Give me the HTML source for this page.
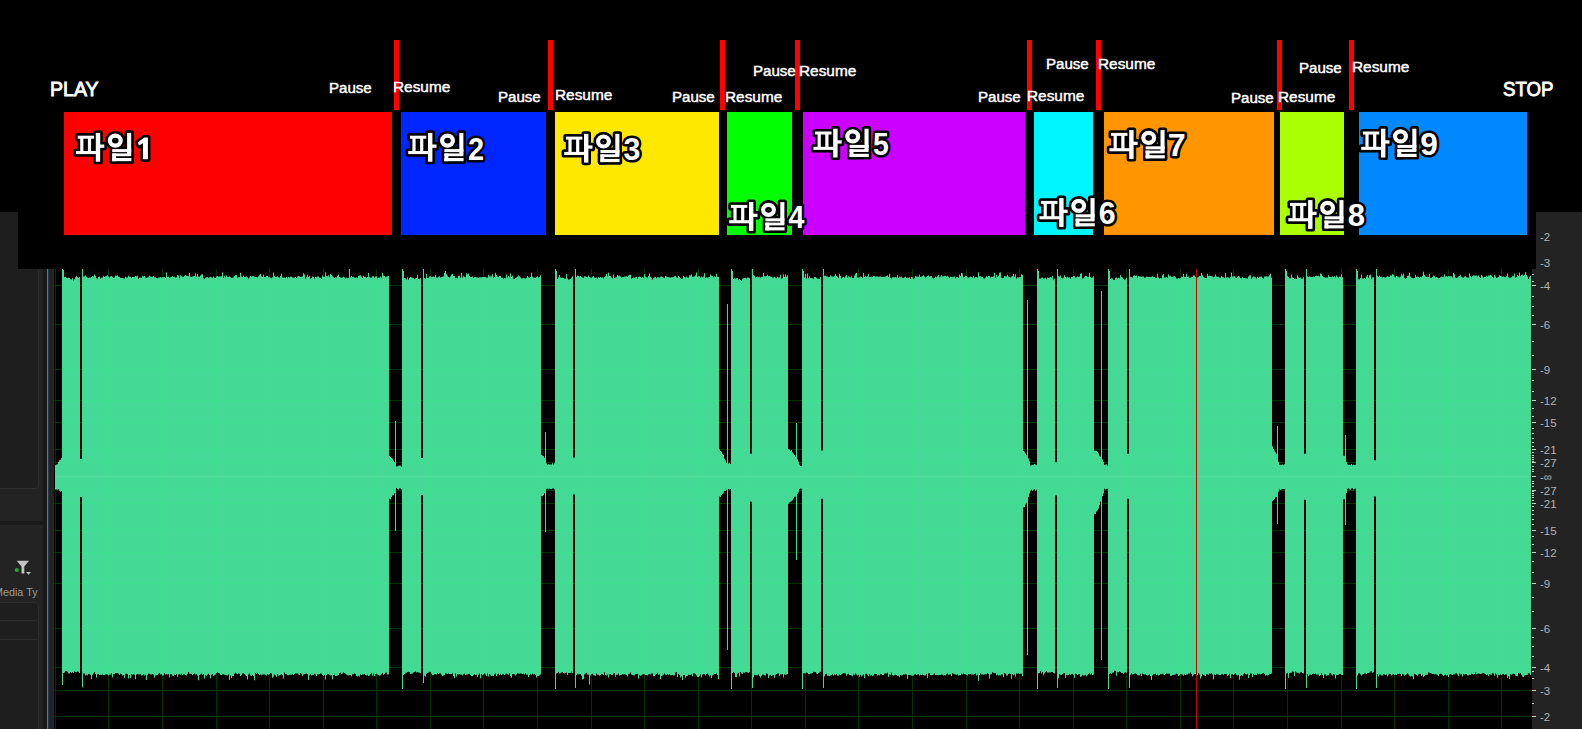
<!DOCTYPE html>
<html><head><meta charset="utf-8"><title>waveform</title>
<style>
html,body{margin:0;padding:0;background:#000;}
body{width:1582px;height:729px;position:relative;overflow:hidden;font-family:"Liberation Sans",sans-serif;}
.abs{position:absolute}
#lp{position:absolute;left:0;top:212px;width:54px;height:517px;background:#232323;overflow:hidden}
#lp .box1{position:absolute;left:-4px;top:-4px;width:41px;height:279px;background:#1e1e1e;border:1px solid #2e2e2e;border-radius:4px}
#lp .band{position:absolute;left:0;top:309px;width:43px;height:4px;background:#1a1a1a}
#lp .dk{position:absolute;left:43px;top:0;width:4px;height:517px;background:#1a1a1a}
#lp .bl{position:absolute;left:47px;top:0;width:1px;height:517px;background:#2e80e8;box-shadow:0.5px 0 0 rgba(46,128,232,.45)}
#lp .box2{position:absolute;left:-4px;top:390px;width:41px;height:140px;background:#1e1e1e;border:1px solid #2e2e2e;border-radius:4px}
#lp .row{position:absolute;left:0;width:37px;height:1px;background:#2c2c2c}
#lp .mt{position:absolute;left:-6px;top:373px;font-size:11.6px;line-height:14px;color:#9c9c9c;white-space:nowrap;transform:scaleX(0.93);transform-origin:0 0}
#rs{position:absolute;left:1532px;top:269px;width:50px;height:460px;background:#232323}
#rs0{position:absolute;left:1536px;top:212px;width:46px;height:57px;background:#232323}
.sl{position:absolute;left:1540px;font-size:11.5px;line-height:12px;color:#b4b4b4;white-space:nowrap}
#ov{position:absolute;left:18px;top:0;width:1518px;height:269px;background:#000}
#ov .b{position:absolute;top:112px;height:123px}
#ov .r{position:absolute;top:40px;width:5px;height:70px;background:#ff0000}
#ov .t{position:absolute;transform-origin:0 0;color:#fff;font-size:15.3px;line-height:15.3px;white-space:nowrap;-webkit-text-stroke:0.45px #fff}
#ov .T{position:absolute;color:#fff;font-size:21.0px;line-height:21.0px;white-space:nowrap;-webkit-text-stroke:0.9px #fff;transform-origin:0 0}
.dg{font-family:"Liberation Sans",sans-serif;font-weight:bold;font-size:31.7px;fill:#fff;stroke:#000;stroke-width:5.2px;stroke-linejoin:round;paint-order:stroke}
</style></head><body>
<svg class="abs" style="left:0;top:0" width="1582" height="729" viewBox="0 0 1582 729" shape-rendering="crispEdges">
<defs><clipPath id="wc"><path d="M55,465.2V465.2H56V464.5H57V464.3H58V462H59V460.2H60V459.7H61V457.8H62V268H63V270H64V277.1H65V276.8H66V277.8H67V277.9H68V277.7H69V278.1H70V279.1H71V279.5H72V278.2H73V280.5H74V279.3H75V277.2H76V275.8H77V277.1H78V278.1H79V276.9H80V459H81V459H82V268H83V276.6H84V276.3H85V275.5H86V276.7H87V277.6H88V277.9H89V277.6H90V277.6H91V277H92V275.9H93V276.6H94V274.6H95V275.7H96V278.2H97V278.4H98V277H99V276.6H100V278.6H101V277.7H102V277.5H103V275.8H104V276.9H105V276.2H106V275.8H107V275.3H108V276.7H109V277.5H110V276.5H111V276H112V276.8H113V277.9H114V277.4H115V275.6H116V275.7H117V275.2H118V276.7H119V276.7H120V277.7H121V278.1H122V277.9H123V278.2H124V278.6H125V276.7H126V277.5H127V277.5H128V275.8H129V276.8H130V276.8H131V278.1H132V277H133V277H134V277.1H135V276.1H136V276.3H137V275.7H138V278.8H139V277.8H140V277.4H141V277.8H142V275.8H143V276.4H144V275.9H145V277.6H146V278.1H147V277.4H148V276.7H149V275.7H150V276.5H151V276.7H152V276.7H153V276.1H154V277.2H155V277.2H156V277.9H157V278.2H158V277.5H159V277.4H160V277H161V277.5H162V277.6H163V277H164V276.9H165V277.9H166V272.5H167V276.9H168V276.8H169V278.1H170V277.3H171V277.1H172V275.8H173V276.9H174V276.7H175V277.5H176V277.2H177V275H178V275.6H179V278.2H180V275.2H181V276.3H182V276.8H183V276.7H184V275.8H185V275H186V275.7H187V276.1H188V276.2H189V272.9H190V276.4H191V277H192V276.4H193V276.2H194V275.9H195V273.2H196V276.6H197V273.9H198V276.6H199V276.7H200V275.5H201V274.6H202V274.3H203V278.2H204V278.7H205V277.7H206V277.3H207V277.1H208V277.8H209V277.3H210V276.8H211V277.3H212V277.8H213V276.5H214V277.5H215V278.1H216V276.8H217V276.1H218V276.7H219V276.6H220V276.3H221V276.2H222V272.2H223V278H224V275.8H225V277.2H226V275.4H227V276.8H228V276.9H229V276.2H230V277.2H231V277.8H232V277.7H233V277.3H234V276H235V275H236V275H237V277.8H238V277.2H239V277.1H240V272.7H241V276.4H242V277H243V275.6H244V277.1H245V276.7H246V276.3H247V277.2H248V278.5H249V277.5H250V276.1H251V276.8H252V276.2H253V276H254V276.8H255V276.9H256V277H257V277.5H258V276.3H259V274.8H260V274H261V276.2H262V277H263V274.8H264V277H265V277.1H266V275.8H267V275.9H268V277.2H269V277.2H270V277.8H271V278.2H272V277.2H273V272.4H274V275.9H275V276.9H276V276.8H277V276.2H278V277.3H279V277.6H280V276H281V273.8H282V277.6H283V278H284V277.2H285V278H286V277.1H287V278.2H288V276.9H289V277.4H290V276.8H291V276.7H292V277.5H293V277.4H294V277.5H295V277H296V277.9H297V276.6H298V276.1H299V276.5H300V277.1H301V276.8H302V276.6H303V273.3H304V274.6H305V278.4H306V277.2H307V274.8H308V277H309V275.8H310V278.7H311V278.1H312V276.6H313V277.1H314V278.5H315V277.1H316V277.2H317V276.5H318V276.5H319V277.5H320V277.7H321V278.9H322V275.6H323V276.9H324V276.8H325V272.4H326V275.9H327V276.2H328V275.3H329V277.3H330V273.9H331V275H332V276.2H333V276.7H334V277.9H335V277.2H336V277.4H337V275.7H338V274.8H339V277H340V277.4H341V277.8H342V277.5H343V276.7H344V277.2H345V278.4H346V277.6H347V278.3H348V278.1H349V267.3H350V277.2H351V275.9H352V276.9H353V276.8H354V277.5H355V277.8H356V277.2H357V277.7H358V275.8H359V275.4H360V275.2H361V276.4H362V278H363V275.7H364V276.9H365V276.7H366V277.8H367V277H368V272.9H369V277.3H370V277.5H371V277.4H372V276.2H373V276.3H374V277.6H375V276.4H376V276.5H377V278.2H378V277.7H379V277.4H380V276.6H381V277.8H382V272.8H383V275.6H384V275.9H385V277.2H386V276.6H387V276.2H388V275.9H389V455.9H390V457H391V458H392V458.6H393V460.5H394V462.2H395V421H396V466.5H397V466.3H398V465.8H399V465.4H400V465.7H401V466.8H402V268H403V271H404V278.1H405V278.2H406V279.5H407V277.4H408V279.4H409V278H410V277.1H411V277.3H412V277.7H413V278.3H414V279H415V278.2H416V277.9H417V274.8H418V279H419V278.7H420V278.1H421V458H422V458H423V268H424V277.9H425V278.7H426V274.1H427V278.1H428V277.7H429V276.5H430V276.5H431V277.3H432V276.7H433V276.6H434V276.9H435V275.2H436V277.4H437V277.4H438V276.7H439V276.2H440V277.5H441V277.1H442V276.7H443V276.2H444V272.8H445V271.1H446V274.2H447V275.6H448V277H449V277.6H450V276.6H451V274.4H452V273.7H453V275.9H454V276.1H455V278.2H456V277.7H457V278.3H458V276.1H459V275.7H460V277.7H461V272.9H462V277.4H463V275.7H464V276.7H465V277.2H466V273.3H467V274.3H468V273.4H469V276H470V276.9H471V277.1H472V276.5H473V278.1H474V277.2H475V276.9H476V277.2H477V277.4H478V277.8H479V277.2H480V277.2H481V277.2H482V277.1H483V277.2H484V277H485V277H486V277.4H487V277.6H488V274.7H489V276.4H490V276.6H491V276.3H492V274.2H493V278.1H494V277H495V272.7H496V275H497V276.5H498V276.9H499V276.1H500V275.9H501V277.8H502V277.7H503V278.7H504V278H505V278.2H506V274.4H507V277.6H508V276.1H509V277.3H510V273.6H511V277H512V275.5H513V278.7H514V278.9H515V277.9H516V277.5H517V276.5H518V275.5H519V276.3H520V277.3H521V278.4H522V278.2H523V277.7H524V278.3H525V278.5H526V277.7H527V275.9H528V277.2H529V277.9H530V277.1H531V272.8H532V276.6H533V277.7H534V277.5H535V278H536V277.1H537V276.6H538V277.5H539V277H540V275.3H541V454.9H542V455.5H543V456H544V457.7H545V432H546V463.3H547V464.7H548V464.2H549V464.4H550V464.6H551V464.5H552V463.3H553V464.4H554V463.2H555V268H556V271H557V279.1H558V277.6H559V274.9H560V277.5H561V277.9H562V277.7H563V277.9H564V278.4H565V278.5H566V274.1H567V278.2H568V279.5H569V279.4H570V278.8H571V277.8H572V276.4H573V457.6H574V457.6H575V268H576V276.7H577V275.6H578V276.1H579V276.4H580V276H581V277.1H582V277.4H583V277.8H584V276.3H585V276.5H586V277H587V277.3H588V275.5H589V277H590V277.5H591V278.3H592V276.7H593V276.1H594V277.4H595V277.8H596V277.6H597V278.5H598V277.2H599V278.1H600V277H601V277.8H602V277.2H603V278.4H604V276.9H605V276H606V274.1H607V276.3H608V272.8H609V276H610V276H611V277.6H612V278.3H613V274.4H614V277.9H615V277.6H616V277.2H617V275.1H618V275.8H619V275.6H620V276.6H621V277.4H622V277H623V277.1H624V276.6H625V276.6H626V276.3H627V276.9H628V275.5H629V274.7H630V274.7H631V278.5H632V278.1H633V277.2H634V277.8H635V277.2H636V276.7H637V278.7H638V276.9H639V276.6H640V276.8H641V278H642V277.2H643V278H644V274.3H645V276.6H646V277.3H647V277.6H648V276.1H649V273.4H650V276.8H651V278.1H652V279.6H653V278.2H654V277.3H655V277.1H656V278.2H657V277.3H658V277.3H659V277.6H660V276.7H661V276.4H662V277.1H663V277.6H664V278.1H665V276.1H666V276.5H667V276.9H668V277.3H669V277.3H670V277.4H671V277.2H672V277.3H673V276.9H674V276.2H675V275.8H676V277.3H677V277.8H678V276.1H679V277.1H680V278H681V279H682V278.5H683V275.9H684V277H685V277.5H686V276.6H687V277.8H688V277.5H689V275.2H690V275.4H691V274.6H692V276.7H693V276.7H694V276.2H695V275.3H696V272.6H697V277.1H698V276.5H699V276.3H700V277.6H701V276.4H702V277.2H703V276.5H704V273.2H705V277.9H706V277.2H707V277.6H708V277.3H709V276.9H710V274.5H711V275.8H712V276.1H713V277.2H714V276.2H715V276.9H716V273.8H717V276.7H718V277H719V449.6H720V450.9H721V451.4H722V453.8H723V455H724V458.7H725V460.2H726V463.1H727V304H728V463.5H729V462.9H730V464H731V268H732V271H733V279.1H734V278.3H735V278.4H736V278.3H737V278.1H738V279.4H739V279.1H740V280.1H741V281H742V278.8H743V278.3H744V277.9H745V277.7H746V278.4H747V277.6H748V277.6H749V278.3H750V453.8H751V453.8H752V268H753V275H754V275.8H755V277.4H756V276.9H757V276.6H758V277.3H759V276.7H760V277.4H761V276.7H762V276.7H763V273.1H764V276.2H765V276.2H766V275.9H767V274.8H768V275.9H769V276H770V276.4H771V276.8H772V277.6H773V277.5H774V276.9H775V277.6H776V278.3H777V276.8H778V277.5H779V277.3H780V274.8H781V278.5H782V278.2H783V274.6H784V277H785V274.2H786V276.7H787V275.3H788V449.5H789V449.7H790V450.7H791V450.1H792V452.3H793V453.6H794V454.9H795V456.8H796V423H797V459.3H798V461.4H799V464.4H800V466.1H801V466H802V268H803V271H804V277.4H805V274H806V278.5H807V273.5H808V278.2H809V276.6H810V278H811V278H812V278.3H813V278.8H814V277H815V277.1H816V277.8H817V278.7H818V278.4H819V279.1H820V277.1H821V450.5H822V450.5H823V268H824V275.8H825V275.7H826V276.4H827V276.6H828V277.2H829V277.1H830V275.6H831V276.3H832V276.6H833V276.7H834V275.7H835V274.3H836V275.9H837V277.1H838V277.7H839V273.9H840V276H841V278.5H842V277.4H843V276.7H844V277.5H845V276.3H846V275.1H847V277.4H848V276.2H849V277.2H850V277.2H851V276.3H852V278H853V278H854V275.5H855V273.7H856V273.1H857V277.6H858V277.8H859V277.3H860V276.6H861V276.9H862V277.7H863V273.1H864V277.1H865V275.7H866V276.7H867V276.3H868V274.3H869V277.2H870V277H871V276.5H872V277.1H873V275.9H874V276.3H875V276.7H876V276.2H877V276.4H878V276.7H879V276.5H880V276.6H881V276.9H882V277.1H883V277.1H884V276.7H885V276.5H886V276.1H887V275.3H888V276.9H889V273.8H890V277.8H891V278.4H892V277.2H893V277.2H894V277.2H895V276.9H896V277.4H897V275.3H898V278H899V276.6H900V277.2H901V276.5H902V277.7H903V278H904V277.2H905V276.7H906V277.9H907V277.4H908V277.7H909V277.2H910V279.1H911V277.1H912V277.5H913V279H914V278.2H915V276H916V276.6H917V276.6H918V276.7H919V274.4H920V276.9H921V276.6H922V276.1H923V275.2H924V276.6H925V277.6H926V276.7H927V276.1H928V275.6H929V276.7H930V276.2H931V275.9H932V277.4H933V278.6H934V278H935V276.6H936V277.2H937V276.5H938V275H939V277.3H940V276.5H941V274.9H942V276.4H943V276.2H944V275.8H945V275.8H946V276.5H947V275.7H948V276.7H949V278.1H950V276.8H951V277H952V277.3H953V276.7H954V276.6H955V278.3H956V277.2H957V277H958V277.8H959V274.4H960V275.9H961V272.9H962V273.6H963V277.4H964V277H965V275.8H966V276H967V277.2H968V277.5H969V277.3H970V276.6H971V277H972V277.6H973V276.1H974V277.7H975V277H976V276.9H977V277.5H978V272.2H979V276.3H980V276.3H981V276.7H982V276.8H983V278.2H984V278.5H985V277.6H986V276.3H987V276.7H988V275.9H989V276.3H990V277.6H991V276.8H992V276.9H993V276.3H994V272.8H995V277.8H996V274.8H997V277H998V276.1H999V272.8H1000V272.5H1001V277.8H1002V278.1H1003V277.7H1004V275.9H1005V276.3H1006V276.6H1007V274.7H1008V276.4H1009V277H1010V277.5H1011V276.6H1012V276.3H1013V273.9H1014V276.8H1015V274.3H1016V278.4H1017V277.2H1018V277.4H1019V277.3H1020V277.1H1021V274.2H1022V275.1H1023V451.1H1024V451.8H1025V453.4H1026V455.3H1027V300H1028V458.6H1029V461.3H1030V465.5H1031V465.2H1032V464.7H1033V464.8H1034V464.1H1035V464.6H1036V464.8H1037V268H1038V271H1039V278.6H1040V278.6H1041V277.7H1042V277.5H1043V278.5H1044V278.2H1045V277.8H1046V279.2H1047V277.6H1048V278H1049V277.4H1050V277H1051V277.6H1052V275.7H1053V279.9H1054V278.5H1055V462.5H1056V462.5H1057V268H1058V276.3H1059V276.6H1060V275.4H1061V277.9H1062V278.6H1063V277.6H1064V275.3H1065V276.9H1066V277.4H1067V276.7H1068V277.4H1069V277.5H1070V278.4H1071V277H1072V277H1073V276.1H1074V276.2H1075V277.5H1076V277.2H1077V276.5H1078V277.1H1079V276.4H1080V273.8H1081V273.2H1082V278.5H1083V278.2H1084V276.7H1085V276H1086V276H1087V276.9H1088V276.8H1089V272.9H1090V277.1H1091V278.1H1092V277.6H1093V276.2H1094V450.4H1095V450.8H1096V450.7H1097V451.7H1098V453.2H1099V455.7H1100V456.7H1101V291H1102V459.5H1103V461.9H1104V464.9H1105V464.5H1106V464.3H1107V465.4H1108V268H1109V271H1110V278.9H1111V278.3H1112V278.6H1113V280H1114V280H1115V277.9H1116V277.5H1117V278.5H1118V277.8H1119V278.2H1120V274.9H1121V277.1H1122V277.4H1123V279H1124V279.7H1125V279.3H1126V278.1H1127V453.8H1128V453.8H1129V268H1130V276.8H1131V276.9H1132V277.6H1133V275.7H1134V275.3H1135V275.9H1136V275.5H1137V277.6H1138V276.1H1139V276.6H1140V276.6H1141V277H1142V276.4H1143V276.6H1144V277.8H1145V277.4H1146V276.4H1147V276.8H1148V276.9H1149V276.9H1150V277H1151V276.7H1152V276.3H1153V277.1H1154V277.1H1155V277.7H1156V277.7H1157V273.8H1158V277.5H1159V278.7H1160V278H1161V278.2H1162V275.2H1163V273.9H1164V277.4H1165V277.4H1166V276.9H1167V278.1H1168V274.5H1169V276.3H1170V275.7H1171V276.9H1172V276.9H1173V276.5H1174V276.1H1175V277H1176V278.4H1177V278.6H1178V278H1179V278.5H1180V278.1H1181V276.8H1182V276.9H1183V273.9H1184V276.7H1185V276.9H1186V273.7H1187V276.9H1188V276.4H1189V278.1H1190V277.8H1191V276.8H1192V277H1193V275.4H1194V275.6H1195V276.9H1196V277.3H1197V277.4H1198V276.7H1199V276.1H1200V276.1H1201V273.1H1202V275.2H1203V277H1204V277.4H1205V277.9H1206V278.1H1207V273.8H1208V276.1H1209V275.8H1210V276.1H1211V276.2H1212V276.6H1213V277.2H1214V276.8H1215V274.4H1216V276.6H1217V276.8H1218V276.8H1219V277.4H1220V277.8H1221V276.2H1222V277H1223V277.2H1224V277.7H1225V272.7H1226V277.4H1227V277.3H1228V277.5H1229V278.3H1230V277H1231V272.4H1232V276.6H1233V276.6H1234V276.3H1235V277.4H1236V278.1H1237V276.8H1238V275.9H1239V276.4H1240V277.9H1241V278.2H1242V277.3H1243V277.9H1244V278.1H1245V278.3H1246V278.2H1247V278.8H1248V276.4H1249V275.6H1250V275.2H1251V278.7H1252V277.6H1253V276.6H1254V276.6H1255V277.3H1256V278.4H1257V276.8H1258V277.9H1259V276.7H1260V276.8H1261V276.5H1262V277.8H1263V278.6H1264V276.6H1265V276.6H1266V276.2H1267V276.6H1268V276.5H1269V275.2H1270V273.8H1271V277.7H1272V446.3H1273V449H1274V450.6H1275V452.2H1276V453.7H1277V426H1278V461.7H1279V464.8H1280V464.8H1281V465.1H1282V464.5H1283V465.2H1284V464.2H1285V268H1286V271H1287V276.2H1288V276.9H1289V278.2H1290V278.3H1291V274.6H1292V277.6H1293V277.9H1294V279H1295V278.6H1296V279H1297V275.3H1298V277.2H1299V278H1300V277.4H1301V278.7H1302V278.4H1303V277.2H1304V453.8H1305V453.8H1306V268H1307V276.6H1308V277H1309V276.4H1310V276.8H1311V277H1312V277H1313V276.4H1314V276.8H1315V276.1H1316V275.8H1317V276H1318V275.7H1319V276.4H1320V273.5H1321V274.3H1322V276.1H1323V276.9H1324V277.3H1325V277.8H1326V277.4H1327V277.5H1328V275.2H1329V276.7H1330V277H1331V277H1332V276.5H1333V276.9H1334V276.3H1335V277.2H1336V275.6H1337V276.9H1338V277.5H1339V276.5H1340V276.7H1341V274.3H1342V277.3H1343V455.7H1344V455.7H1345V435H1346V461.8H1347V464.2H1348V464.7H1349V464.7H1350V464.9H1351V463.9H1352V465.3H1353V464.8H1354V464.9H1355V464.7H1356V268H1357V271H1358V279.2H1359V279.2H1360V277.9H1361V274.5H1362V278.5H1363V278.6H1364V278H1365V279H1366V276.5H1367V275H1368V277.7H1369V275.2H1370V274.5H1371V279.3H1372V277.4H1373V277.2H1374V460.3H1375V460.3H1376V268H1377V276H1378V277.1H1379V275.8H1380V277.1H1381V276.6H1382V277.6H1383V277.1H1384V277.3H1385V277.6H1386V276.7H1387V276.3H1388V276.7H1389V276.9H1390V275.6H1391V275.7H1392V274.3H1393V274.6H1394V276.8H1395V277.4H1396V276H1397V276.4H1398V276.7H1399V277.5H1400V276.6H1401V273.7H1402V275.4H1403V273.6H1404V277.8H1405V279.1H1406V277.9H1407V276.1H1408V275.6H1409V272.8H1410V276.5H1411V277.7H1412V278H1413V278.3H1414V278.1H1415V274.8H1416V277.1H1417V276.5H1418V276.9H1419V277.9H1420V276.8H1421V277.2H1422V275.9H1423V271.8H1424V275.1H1425V276.5H1426V277H1427V276.8H1428V277.1H1429V273.9H1430V278H1431V278.1H1432V276.9H1433V275.5H1434V276.2H1435V277.4H1436V277H1437V277.4H1438V278.3H1439V278H1440V277.2H1441V276.6H1442V277.3H1443V276.8H1444V274.3H1445V276.5H1446V276.3H1447V276.7H1448V276H1449V276.3H1450V276.3H1451V276.2H1452V277.5H1453V272.9H1454V274.3H1455V277.4H1456V277.9H1457V277.4H1458V276.6H1459V276.1H1460V275.3H1461V276.7H1462V277.4H1463V277.8H1464V276.5H1465V276.2H1466V277.3H1467V277.6H1468V277.5H1469V273.6H1470V276.2H1471V277.3H1472V276.1H1473V275.3H1474V275.4H1475V275.8H1476V275.6H1477V276.6H1478V275.4H1479V277.1H1480V278H1481V275H1482V276.2H1483V277.4H1484V277.1H1485V277.1H1486V275.7H1487V276.7H1488V275.6H1489V275.5H1490V275H1491V275.4H1492V276.9H1493V277.8H1494V274.8H1495V276.4H1496V278H1497V277.6H1498V276.9H1499V275.2H1500V276.1H1501V276.5H1502V276.7H1503V276.6H1504V276.8H1505V277.3H1506V276.3H1507V273.6H1508V277.2H1509V277.7H1510V277.5H1511V277.2H1512V275.7H1513V276.2H1514V273.6H1515V277.8H1516V277H1517V274.9H1518V276H1519V272.4H1520V276.2H1521V275H1522V274.6H1523V276.1H1524V275.1H1525V271.9H1526V274.9H1527V276.6H1528V278.9H1529V277.3H1530V275.8H1531V675H1530V673.6H1529V673.3H1528V674.7H1527V675H1526V674.9H1525V675.6H1524V676.9H1523V676.4H1522V674.7H1521V673.3H1520V673.5H1519V673.1H1518V676.2H1517V676.1H1516V675.4H1515V673.9H1514V673.7H1513V674.2H1512V674.8H1511V674.3H1510V679.1H1509V676.2H1508V677.9H1507V674.4H1506V674.3H1505V675.1H1504V674.1H1503V674.3H1502V675H1501V674.5H1500V675.2H1499V674.7H1498V677.4H1497V674.6H1496V673.5H1495V675.7H1494V673.6H1493V673.3H1492V674.7H1491V674.5H1490V674H1489V675.9H1488V674.8H1487V674.9H1486V674.1H1485V673.5H1484V672.9H1483V673.3H1482V673.8H1481V674H1480V673.8H1479V673.6H1478V673.8H1477V674.3H1476V672.3H1475V674H1474V674.4H1473V674H1472V673.7H1471V674.9H1470V674.8H1469V675.4H1468V675.2H1467V674.1H1466V674H1465V674.6H1464V673.9H1463V676.6H1462V674.1H1461V674.4H1460V673.6H1459V676H1458V674.4H1457V673.2H1456V673.6H1455V674.2H1454V674.6H1453V674.9H1452V674.7H1451V673.9H1450V674.4H1449V677.1H1448V675.2H1447V675.6H1446V674.7H1445V675.3H1444V675.8H1443V674.8H1442V673.9H1441V673.7H1440V674.1H1439V675.7H1438V674.8H1437V674.4H1436V674.2H1435V674.4H1434V674.1H1433V674.1H1432V673.4H1431V672.9H1430V672.8H1429V672.6H1428V674.8H1427V674.8H1426V674.9H1425V675.9H1424V677.2H1423V674.7H1422V675.9H1421V674.1H1420V673.7H1419V674.6H1418V675.7H1417V674.9H1416V674.6H1415V673.7H1414V679.2H1413V676.4H1412V675.7H1411V676.4H1410V675.7H1409V674.6H1408V672.9H1407V674.3H1406V675H1405V675.8H1404V674.4H1403V674.1H1402V675.9H1401V673.9H1400V673.7H1399V673.9H1398V673.8H1397V674.9H1396V674.7H1395V675H1394V673.9H1393V674.4H1392V675.4H1391V674.1H1390V673.8H1389V674.8H1388V676.2H1387V674.5H1386V674.9H1385V674.4H1384V674H1383V675.4H1382V675.5H1381V674.5H1380V674.4H1379V676.6H1378V674.1H1377V688H1376V496.6H1375V496.6H1374V672.2H1373V672.7H1372V671.2H1371V671.4H1370V672.4H1369V672.9H1368V673H1367V674.1H1366V673.4H1365V673.5H1364V674.1H1363V674.4H1362V675.5H1361V674.6H1360V673.3H1359V673.4H1358V675.5H1357V689H1356V488.5H1355V489.3H1354V489.4H1353V488.2H1352V488.4H1351V489.7H1350V489.6H1349V488.2H1348V488.7H1347V493H1346V525H1345V499.2H1344V499.3H1343V675.1H1342V674.7H1341V673.9H1340V674H1339V674.7H1338V675H1337V675.3H1336V678.6H1335V674.5H1334V674H1333V675.4H1332V674.6H1331V673H1330V673.6H1329V675.3H1328V675.3H1327V676H1326V674.3H1325V674.4H1324V678.1H1323V675.1H1322V673.1H1321V675.1H1320V675.7H1319V674.6H1318V674.5H1317V674.6H1316V673.6H1315V673.9H1314V673.4H1313V673.9H1312V674.9H1311V674.5H1310V674.8H1309V676.2H1308V674.3H1307V688H1306V499.8H1305V499.8H1304V673.4H1303V673H1302V672H1301V672.2H1300V673.4H1299V673.2H1298V672.8H1297V672.5H1296V671.4H1295V675.9H1294V671.7H1293V671.6H1292V672.7H1291V672.7H1290V672.9H1289V677.8H1288V672.8H1287V673.5H1286V689H1285V489H1284V489.1H1283V488.9H1282V489.6H1281V490.1H1280V489.4H1279V491.7H1278V524H1277V496.9H1276V497.6H1275V498.9H1274V499.9H1273V501.2H1272V673.5H1271V673.9H1270V674.3H1269V675H1268V675.6H1267V675.3H1266V675.4H1265V674.1H1264V673H1263V673.6H1262V674.1H1261V674.5H1260V673.7H1259V674.2H1258V673.5H1257V674.7H1256V674.8H1255V675.1H1254V674H1253V677.3H1252V673.8H1251V673.4H1250V674.9H1249V678.1H1248V673.8H1247V674.4H1246V674H1245V673.3H1244V674H1243V675.7H1242V674.9H1241V675.7H1240V679.8H1239V675.1H1238V675.4H1237V674.7H1236V673.1H1235V674.2H1234V675.1H1233V674.3H1232V674.3H1231V678.1H1230V673.8H1229V675.3H1228V676H1227V674.3H1226V673.9H1225V674.1H1224V674.7H1223V674.3H1222V674.4H1221V674.9H1220V675.1H1219V674.6H1218V674.5H1217V674.2H1216V674.9H1215V674.5H1214V679.4H1213V674.5H1212V673H1211V673.8H1210V673.4H1209V674.7H1208V674.6H1207V674.3H1206V676.1H1205V675.4H1204V675H1203V674H1202V676.3H1201V678.5H1200V674.6H1199V673.3H1198V674.9H1197V674.9H1196V674.1H1195V674.1H1194V675.2H1193V676.4H1192V673.8H1191V672.6H1190V673.4H1189V673.5H1188V674.6H1187V674.5H1186V675.1H1185V674.6H1184V675.7H1183V674.5H1182V674.2H1181V673.8H1180V675.3H1179V676H1178V674.3H1177V673.8H1176V674.5H1175V674.7H1174V675H1173V675.1H1172V675.7H1171V675.7H1170V673.7H1169V673.8H1168V673.7H1167V673.4H1166V674.1H1165V675.1H1164V674.5H1163V673.7H1162V674.3H1161V674.2H1160V674.9H1159V675.6H1158V674.7H1157V675.1H1156V673.8H1155V674.1H1154V674.1H1153V675.3H1152V680.1H1151V676.1H1150V674.5H1149V675.3H1148V675.4H1147V675H1146V674.3H1145V674.5H1144V674.2H1143V673.6H1142V676H1141V673.8H1140V675.5H1139V675.2H1138V675.3H1137V674.1H1136V673.4H1135V673.8H1134V674H1133V674.4H1132V673.1H1131V674.8H1130V688H1129V498.7H1128V498.7H1127V672.4H1126V672H1125V672.7H1124V673.7H1123V672.9H1122V673.1H1121V672H1120V670.9H1119V672.3H1118V671.9H1117V675.8H1116V671H1115V670.7H1114V672.5H1113V672.8H1112V674H1111V673.2H1110V673.7H1109V689H1108V488.7H1107V489.1H1106V489.6H1105V488.8H1104V493.4H1103V496.2H1102V660H1101V501.5H1100V505.3H1099V508.6H1098V510.3H1097V511.4H1096V514H1095V513.7H1094V674.5H1093V674.9H1092V673.3H1091V674.4H1090V673.3H1089V674H1088V674.9H1087V676.3H1086V674.7H1085V675.5H1084V675.5H1083V674.7H1082V676.5H1081V676.8H1080V674.1H1079V674.4H1078V674.9H1077V673.9H1076V673.7H1075V677.7H1074V675.1H1073V673.9H1072V673.9H1071V674.8H1070V674.3H1069V675H1068V675.3H1067V674.8H1066V678.1H1065V673H1064V673.4H1063V674.2H1062V675H1061V674.7H1060V674.2H1059V678.2H1058V688H1057V495.5H1056V495.5H1055V673.6H1054V672.9H1053V671.9H1052V671.9H1051V672.5H1050V672.5H1049V672.6H1048V672.4H1047V670.9H1046V672H1045V673.6H1044V675.2H1043V672.1H1042V673.4H1041V671.2H1040V673H1039V673.6H1038V689H1037V489.8H1036V490.6H1035V489.3H1034V489.8H1033V490.4H1032V489.8H1031V490.5H1030V493.5H1029V497.1H1028V655H1027V502.7H1026V504.4H1025V506.9H1024V507.4H1023V676.2H1022V673.8H1021V673.7H1020V673.9H1019V673.3H1018V673.7H1017V673.6H1016V676.5H1015V674.4H1014V675.2H1013V674.2H1012V678.8H1011V673.9H1010V673.5H1009V674H1008V675.6H1007V675.5H1006V673.7H1005V673H1004V677.2H1003V674.4H1002V674.2H1001V675.5H1000V675.2H999V675.6H998V674.5H997V675.3H996V673.3H995V673.2H994V672.7H993V672.2H992V674.3H991V674.4H990V678.6H989V673.8H988V673.2H987V674.2H986V674.3H985V674.6H984V674.8H983V674.6H982V674.4H981V673.4H980V674.9H979V680.7H978V674.7H977V675.4H976V673.5H975V674H974V674.4H973V674.4H972V674.5H971V674H970V674.3H969V673.9H968V675.4H967V674.8H966V674.3H965V673.9H964V673.5H963V674.2H962V673.6H961V675.2H960V675.3H959V675.4H958V674.2H957V674.7H956V674.4H955V674.2H954V673.8H953V673.2H952V676H951V674.4H950V674.5H949V674.7H948V673.6H947V674.2H946V675.5H945V675.3H944V675.5H943V674.7H942V674.6H941V674.9H940V675H939V675.2H938V675.1H937V674.9H936V675.1H935V673.6H934V674.5H933V675.1H932V675.3H931V675H930V673.3H929V673.5H928V678.3H927V673.9H926V675.4H925V675.6H924V675H923V674.7H922V674.9H921V674.8H920V675.5H919V674.3H918V674.5H917V675.1H916V674.3H915V674.4H914V675.5H913V675.6H912V675.5H911V675.2H910V675H909V674.9H908V678.8H907V674.4H906V673.7H905V674.4H904V674.3H903V675.3H902V675.4H901V675H900V677.2H899V675.7H898V676.1H897V675H896V674.8H895V675.2H894V675.5H893V675.2H892V672.5H891V674.7H890V674.6H889V676.9H888V672.8H887V673.4H886V673.4H885V673.8H884V675.1H883V675H882V674.1H881V674.2H880V675.3H879V674.8H878V675.5H877V674.1H876V673.9H875V673.8H874V675.5H873V675.9H872V674.7H871V675.6H870V674.2H869V676.3H868V674.7H867V673.8H866V674.2H865V678.3H864V674.3H863V675.5H862V676.4H861V674.7H860V676.8H859V674.8H858V675.5H857V674.4H856V673.6H855V674.7H854V674.5H853V676.2H852V675.4H851V674.9H850V674.9H849V673.8H848V674.3H847V675.6H846V673.4H845V673.3H844V673.2H843V673.8H842V674.4H841V674.9H840V674.5H839V675.5H838V675.5H837V674.3H836V674.9H835V674.6H834V675.5H833V674.2H832V674.9H831V675.4H830V676H829V675.8H828V675.7H827V673.8H826V674.3H825V676.5H824V688H823V498.7H822V498.7H821V671.8H820V672.6H819V673.3H818V674.1H817V673.6H816V672.1H815V671.9H814V671.8H813V672.9H812V673.6H811V673.7H810V674H809V673.9H808V673H807V672.5H806V673.2H805V673.3H804V673.2H803V689H802V488.7H801V488.4H800V489H799V492.5H798V493.8H797V560H796V496.5H795V496.8H794V498.4H793V500.3H792V501.3H791V501.7H790V502.4H789V503.6H788V674.1H787V674.5H786V674.8H785V674.6H784V677.4H783V674.1H782V674.4H781V674.6H780V675.8H779V673.4H778V673.5H777V674.2H776V674.8H775V677.9H774V674.9H773V675.3H772V676H771V675H770V675.6H769V677.9H768V673.7H767V673.6H766V675.4H765V675.2H764V674.8H763V674.6H762V675.7H761V677.6H760V676H759V674.6H758V675.3H757V675.3H756V675.2H755V674.7H754V677.6H753V688H752V501.4H751V501.4H750V672H749V673H748V672.6H747V671.9H746V672.1H745V672.7H744V672.6H743V674H742V673.4H741V671.9H740V676.5H739V672.7H738V673.7H737V677.3H736V677.1H735V672.7H734V672H733V673.1H732V689H731V489H730V489.4H729V489H728V650H727V489.7H726V491.1H725V491.1H724V492.8H723V493.9H722V495.1H721V496.9H720V496.4H719V679.1H718V674.9H717V673.6H716V674.1H715V674.1H714V674.7H713V675.6H712V677.9H711V675.2H710V676.5H709V674.7H708V673.4H707V674H706V675.4H705V674.2H704V674H703V674.4H702V677.6H701V674.4H700V676.3H699V677H698V677.1H697V675.5H696V674.3H695V673.5H694V673.4H693V676.3H692V674.2H691V675H690V675.1H689V674.7H688V675.9H687V675.9H686V677.8H685V674.9H684V674.9H683V680H682V676.3H681V677.4H680V675.1H679V673.9H678V677H677V672.1H676V672.4H675V675.3H674V675.5H673V675.1H672V675.3H671V675.2H670V674H669V674.7H668V674.1H667V675.1H666V674.4H665V673.6H664V674.8H663V675.5H662V675.9H661V678.9H660V674.4H659V674.8H658V672.8H657V674.1H656V674.8H655V676.1H654V676.3H653V673.5H652V673.4H651V674.4H650V674.2H649V674.2H648V675.4H647V675.1H646V675.3H645V674.3H644V674.2H643V674.4H642V675.2H641V675.7H640V675.1H639V678.4H638V673.8H637V674.1H636V674.3H635V675.6H634V675.2H633V674.9H632V674.6H631V672.5H630V673.8H629V674.3H628V676.5H627V675H626V674.7H625V674.2H624V674.5H623V674.2H622V674.8H621V675H620V675.4H619V673.7H618V674.8H617V674.8H616V676.8H615V672.9H614V673.5H613V674.9H612V675H611V674.1H610V674.5H609V677.4H608V674.6H607V675.4H606V674.9H605V672.2H604V675.1H603V674.2H602V674.1H601V674.9H600V675.7H599V674.7H598V674.7H597V673.5H596V675.8H595V675.6H594V675.2H593V673.7H592V674.1H591V675.4H590V684.4H589V674.6H588V674.4H587V672.7H586V673.4H585V674.6H584V678.9H583V679.6H582V675.8H581V674.1H580V673.9H579V674.2H578V673.7H577V674.9H576V688H575V494.5H574V494.5H573V673.2H572V671.7H571V673.1H570V673H569V672.9H568V675H567V672.4H566V673H565V673.6H564V673H563V672H562V672.6H561V673.3H560V673.6H559V671.9H558V672.9H557V673.5H556V689H555V489.4H554V488.3H553V488.6H552V489.3H551V488.9H550V488.6H549V489.5H548V488.6H547V489.2H546V532H545V493.2H544V495H543V496.3H542V496.1H541V674.6H540V675.6H539V676H538V675.8H537V677.4H536V675.1H535V674.1H534V674.4H533V673.7H532V674.7H531V674.2H530V674.9H529V677H528V674.8H527V674.5H526V672.9H525V674.5H524V673.7H523V673.9H522V673.6H521V673.4H520V673.8H519V673.5H518V673H517V674.6H516V675.4H515V674.4H514V674.1H513V673.9H512V677.8H511V676.1H510V673.2H509V674.8H508V674.3H507V673.6H506V674.6H505V674.9H504V674.2H503V674.2H502V675.1H501V674.3H500V674.9H499V673.8H498V674.3H497V675.9H496V673.2H495V674.6H494V676H493V675.8H492V676H491V674.7H490V674H489V676.6H488V673.4H487V676.3H486V674.4H485V673.4H484V674.3H483V675.3H482V674.1H481V678.3H480V673.6H479V674.8H478V677.1H477V674.7H476V674.9H475V674.2H474V675.3H473V676.3H472V676.1H471V675.1H470V673.8H469V674H468V674.6H467V674.6H466V675H465V673.7H464V674H463V675.4H462V674.8H461V674.4H460V674H459V674.6H458V674H457V676.5H456V673.6H455V678.3H454V675.9H453V673.4H452V674.1H451V673.9H450V674H449V673.6H448V673.9H447V673.4H446V673.2H445V674.9H444V675.4H443V676.2H442V674.7H441V673.6H440V673.6H439V674.1H438V673H437V674.4H436V673.9H435V674.2H434V675H433V675.2H432V673.7H431V672H430V671.7H429V672.6H428V673H427V673.7H426V676.6H425V675.8H424V683H423V495H422V495H421V673.3H420V672.7H419V672.5H418V672.1H417V672.4H416V671.5H415V671.9H414V672.6H413V673.5H412V673.8H411V673.9H410V672.2H409V671.8H408V671.9H407V672.8H406V673.6H405V674.2H404V674.9H403V689H402V489.4H401V488.6H400V488.4H399V489.4H398V489H397V488H396V531H395V493.2H394V495.2H393V495.6H392V496.9H391V499.3H390V498.7H389V674.5H388V674.5H387V672.6H386V672.7H385V674H384V674.8H383V673.1H382V674.2H381V675.2H380V675.7H379V675H378V674.4H377V673.5H376V673.9H375V676.2H374V673.6H373V675.7H372V672.7H371V674.3H370V675.8H369V675.9H368V674.8H367V675.6H366V674.9H365V674.2H364V674.6H363V674.4H362V675H361V674.4H360V676.4H359V675.8H358V676.4H357V676H356V674H355V673.6H354V674.2H353V674.2H352V676.3H351V675.1H350V675.3H349V675.5H348V675.2H347V674.6H346V673.8H345V672.9H344V672.4H343V673.5H342V673.9H341V672.8H340V673H339V675.1H338V675.4H337V676H336V676.1H335V674.8H334V675.1H333V679.5H332V675.3H331V675.5H330V674.8H329V674.3H328V673.7H327V675.3H326V679.5H325V674.9H324V675.7H323V675.1H322V673.8H321V673.5H320V673.9H319V674.4H318V674.2H317V675.9H316V674.5H315V673.8H314V674.7H313V675.2H312V675.4H311V674.2H310V675.5H309V679.9H308V674.2H307V673.6H306V673.8H305V674H304V674.4H303V675.8H302V673.7H301V672.9H300V674.9H299V674.5H298V673.2H297V673.4H296V673.3H295V673.9H294V674.9H293V674.4H292V674.7H291V674.8H290V674.7H289V675.3H288V675.2H287V674.2H286V673.9H285V672.4H284V678.5H283V675.3H282V674.1H281V674.7H280V675.3H279V675.7H278V674.1H277V676.7H276V675.6H275V674.5H274V676.4H273V677.7H272V673.6H271V672.9H270V674H269V674.7H268V674H267V675.5H266V674.8H265V674.5H264V674.5H263V674.4H262V675.2H261V674.6H260V675.2H259V674H258V672.8H257V673.8H256V673.1H255V680.2H254V676H253V675.1H252V675.9H251V675.6H250V673.4H249V674.5H248V679.5H247V676.1H246V675.3H245V674.3H244V673.2H243V673.4H242V675.2H241V676H240V673.8H239V673.5H238V674.3H237V673.5H236V672.6H235V673.8H234V675.9H233V676.3H232V678H231V675.4H230V680H229V674.4H228V675.6H227V675.2H226V675.1H225V674.7H224V674.2H223V674.6H222V675H221V674.7H220V673.6H219V672.9H218V672.3H217V673.1H216V674.5H215V675.2H214V676H213V674.1H212V674.8H211V678.2H210V675.1H209V673.7H208V674.8H207V675.7H206V675.2H205V678.4H204V674.1H203V674.7H202V673.5H201V674.5H200V675.1H199V680.3H198V675.6H197V674.3H196V674.6H195V673.4H194V674.1H193V675.2H192V673.9H191V673.8H190V673.8H189V672H188V673.7H187V675.4H186V675.1H185V674.4H184V673.9H183V675.2H182V673.8H181V674.7H180V674.3H179V674.6H178V677.1H177V674.2H176V675H175V674.8H174V675.9H173V675.4H172V674.3H171V674.3H170V677.6H169V674.3H168V674.4H167V674.2H166V674.5H165V673.3H164V675.5H163V675.6H162V674.2H161V674.6H160V673H159V673.8H158V674.9H157V675.2H156V675.4H155V677.4H154V674.6H153V674.1H152V674.6H151V674.4H150V673.7H149V673.8H148V675.3H147V680H146V674.7H145V675.6H144V674.3H143V675.3H142V675.4H141V674.2H140V674.2H139V674.2H138V674H137V674.5H136V679.2H135V674.7H134V674.2H133V674.8H132V674.1H131V678.2H130V675H129V678.4H128V674.3H127V673.7H126V673.8H125V677.8H124V675H123V675.6H122V674.1H121V673.8H120V674.9H119V673.8H118V672.9H117V672.9H116V673.1H115V673.9H114V674.1H113V677.5H112V673H111V674.4H110V674.7H109V675.2H108V674.4H107V674.2H106V674.6H105V675.3H104V675.1H103V674.6H102V674.9H101V674.8H100V674.9H99V673.9H98V674.5H97V677.6H96V674.1H95V672.1H94V673.8H93V674.8H92V679.2H91V674.8H90V674.3H89V674H88V675.5H87V674.8H86V675.4H85V673.5H84V673.6H83V687.4H82V497H81V497H80V673.1H79V671.7H78V671.4H77V672.2H76V671.9H75V671.6H74V672.9H73V672.2H72V673H71V672.1H70V673.5H69V673.4H68V671.8H67V671.1H66V671H65V672.5H64V673H63V685H62V490.7H61V491.7H60V490.6H59V489.2H58V489.7H57V489.5H56V489.2H55Z"/></clipPath></defs>
<g fill="#003300"><rect x="55" y="212" width="1" height="517"/><rect x="108" y="212" width="1" height="517"/><rect x="162" y="212" width="1" height="517"/><rect x="216" y="212" width="1" height="517"/><rect x="269" y="212" width="1" height="517"/><rect x="323" y="212" width="1" height="517"/><rect x="376" y="212" width="1" height="517"/><rect x="430" y="212" width="1" height="517"/><rect x="483" y="212" width="1" height="517"/><rect x="537" y="212" width="1" height="517"/><rect x="591" y="212" width="1" height="517"/><rect x="644" y="212" width="1" height="517"/><rect x="698" y="212" width="1" height="517"/><rect x="751" y="212" width="1" height="517"/><rect x="805" y="212" width="1" height="517"/><rect x="858" y="212" width="1" height="517"/><rect x="912" y="212" width="1" height="517"/><rect x="966" y="212" width="1" height="517"/><rect x="1019" y="212" width="1" height="517"/><rect x="1073" y="212" width="1" height="517"/><rect x="1126" y="212" width="1" height="517"/><rect x="1180" y="212" width="1" height="517"/><rect x="1233" y="212" width="1" height="517"/><rect x="1287" y="212" width="1" height="517"/><rect x="1341" y="212" width="1" height="517"/><rect x="1394" y="212" width="1" height="517"/><rect x="1448" y="212" width="1" height="517"/><rect x="1501" y="212" width="1" height="517"/><rect x="54" y="236" width="1478" height="1"/><rect x="54" y="262" width="1478" height="1"/><rect x="54" y="285" width="1478" height="1"/><rect x="54" y="324" width="1478" height="1"/><rect x="54" y="369" width="1478" height="1"/><rect x="54" y="400" width="1478" height="1"/><rect x="54" y="422" width="1478" height="1"/><rect x="54" y="449" width="1478" height="1"/><rect x="54" y="462" width="1478" height="1"/><rect x="54" y="490" width="1478" height="1"/><rect x="54" y="503" width="1478" height="1"/><rect x="54" y="530" width="1478" height="1"/><rect x="54" y="552" width="1478" height="1"/><rect x="54" y="583" width="1478" height="1"/><rect x="54" y="628" width="1478" height="1"/><rect x="54" y="667" width="1478" height="1"/><rect x="54" y="690" width="1478" height="1"/><rect x="54" y="716" width="1478" height="1"/></g>
<rect x="54" y="212" width="1478" height="517" fill="#45da96" clip-path="url(#wc)"/>
<g fill="#3fe090" opacity="0.85" clip-path="url(#wc)"><rect x="55" y="212" width="1" height="517"/><rect x="108" y="212" width="1" height="517"/><rect x="162" y="212" width="1" height="517"/><rect x="216" y="212" width="1" height="517"/><rect x="269" y="212" width="1" height="517"/><rect x="323" y="212" width="1" height="517"/><rect x="376" y="212" width="1" height="517"/><rect x="430" y="212" width="1" height="517"/><rect x="483" y="212" width="1" height="517"/><rect x="537" y="212" width="1" height="517"/><rect x="591" y="212" width="1" height="517"/><rect x="644" y="212" width="1" height="517"/><rect x="698" y="212" width="1" height="517"/><rect x="751" y="212" width="1" height="517"/><rect x="805" y="212" width="1" height="517"/><rect x="858" y="212" width="1" height="517"/><rect x="912" y="212" width="1" height="517"/><rect x="966" y="212" width="1" height="517"/><rect x="1019" y="212" width="1" height="517"/><rect x="1073" y="212" width="1" height="517"/><rect x="1126" y="212" width="1" height="517"/><rect x="1180" y="212" width="1" height="517"/><rect x="1233" y="212" width="1" height="517"/><rect x="1287" y="212" width="1" height="517"/><rect x="1341" y="212" width="1" height="517"/><rect x="1394" y="212" width="1" height="517"/><rect x="1448" y="212" width="1" height="517"/><rect x="1501" y="212" width="1" height="517"/><rect x="54" y="236" width="1478" height="1"/><rect x="54" y="262" width="1478" height="1"/><rect x="54" y="285" width="1478" height="1"/><rect x="54" y="324" width="1478" height="1"/><rect x="54" y="369" width="1478" height="1"/><rect x="54" y="400" width="1478" height="1"/><rect x="54" y="422" width="1478" height="1"/><rect x="54" y="449" width="1478" height="1"/><rect x="54" y="462" width="1478" height="1"/><rect x="54" y="490" width="1478" height="1"/><rect x="54" y="503" width="1478" height="1"/><rect x="54" y="530" width="1478" height="1"/><rect x="54" y="552" width="1478" height="1"/><rect x="54" y="583" width="1478" height="1"/><rect x="54" y="628" width="1478" height="1"/><rect x="54" y="667" width="1478" height="1"/><rect x="54" y="690" width="1478" height="1"/><rect x="54" y="716" width="1478" height="1"/></g>
<rect x="55" y="476" width="1476" height="1" fill="#56da98"/>
<rect x="1196" y="212" width="1" height="517" fill="#c80000"/>
<rect x="1531" y="212" width="1" height="517" fill="#000"/>
</svg>
<div id="lp"><div class="box1"></div><div class="band"></div><div class="box2"></div>
<div class="row" style="top:408px"></div><div class="row" style="top:427px"></div>
<div class="mt">Media Ty</div>
<svg class="abs" style="left:12px;top:346px" width="22" height="20" viewBox="0 0 22 20">
<circle cx="4.8" cy="12" r="2.1" fill="#1fae1f"/>
<path d="M4.7,2.8 H17 L12.3,8.6 V15.4 H9.5 V8.6 Z" fill="#c4c4c4"/>
<path d="M14,14 H19 L16.5,16.8 Z" fill="#c4c4c4"/></svg>
<div class="dk"></div><div class="bl"></div></div>
<div id="rs0"></div><div id="rs"></div>
<svg class="abs" style="left:0;top:0" width="1582" height="729" viewBox="0 0 1582 729" shape-rendering="crispEdges"><g fill="#cfcfcf"><rect x="1532" y="236" width="4" height="1"/><rect x="1532" y="262" width="4" height="1"/><rect x="1532" y="285" width="4" height="1"/><rect x="1532" y="324" width="4" height="1"/><rect x="1532" y="369" width="4" height="1"/><rect x="1532" y="400" width="4" height="1"/><rect x="1532" y="422" width="4" height="1"/><rect x="1532" y="449" width="4" height="1"/><rect x="1532" y="462" width="4" height="1"/><rect x="1532" y="249" width="2" height="1"/><rect x="1532" y="274" width="2" height="1"/><rect x="1532" y="281" width="2" height="1"/><rect x="1532" y="296" width="2" height="1"/><rect x="1532" y="306" width="2" height="1"/><rect x="1532" y="315" width="2" height="1"/><rect x="1532" y="341" width="2" height="1"/><rect x="1532" y="355" width="2" height="1"/><rect x="1532" y="380" width="2" height="1"/><rect x="1532" y="391" width="2" height="1"/><rect x="1532" y="408" width="2" height="1"/><rect x="1532" y="416" width="2" height="1"/><rect x="1532" y="428" width="2" height="1"/><rect x="1532" y="433" width="2" height="1"/><rect x="1532" y="438" width="2" height="1"/><rect x="1532" y="442" width="2" height="1"/><rect x="1532" y="446" width="2" height="1"/><rect x="1532" y="452" width="2" height="1"/><rect x="1532" y="455" width="2" height="1"/><rect x="1532" y="457" width="2" height="1"/><rect x="1532" y="459" width="2" height="1"/><rect x="1532" y="461" width="2" height="1"/><rect x="1532" y="466" width="2" height="1"/><rect x="1532" y="469" width="2" height="1"/><rect x="1532" y="471" width="2" height="1"/><rect x="1532" y="716" width="4" height="1"/><rect x="1532" y="690" width="4" height="1"/><rect x="1532" y="667" width="4" height="1"/><rect x="1532" y="628" width="4" height="1"/><rect x="1532" y="583" width="4" height="1"/><rect x="1532" y="552" width="4" height="1"/><rect x="1532" y="530" width="4" height="1"/><rect x="1532" y="503" width="4" height="1"/><rect x="1532" y="490" width="4" height="1"/><rect x="1532" y="703" width="2" height="1"/><rect x="1532" y="678" width="2" height="1"/><rect x="1532" y="671" width="2" height="1"/><rect x="1532" y="656" width="2" height="1"/><rect x="1532" y="646" width="2" height="1"/><rect x="1532" y="637" width="2" height="1"/><rect x="1532" y="611" width="2" height="1"/><rect x="1532" y="597" width="2" height="1"/><rect x="1532" y="572" width="2" height="1"/><rect x="1532" y="561" width="2" height="1"/><rect x="1532" y="544" width="2" height="1"/><rect x="1532" y="536" width="2" height="1"/><rect x="1532" y="524" width="2" height="1"/><rect x="1532" y="519" width="2" height="1"/><rect x="1532" y="514" width="2" height="1"/><rect x="1532" y="510" width="2" height="1"/><rect x="1532" y="506" width="2" height="1"/><rect x="1532" y="500" width="2" height="1"/><rect x="1532" y="497" width="2" height="1"/><rect x="1532" y="495" width="2" height="1"/><rect x="1532" y="493" width="2" height="1"/><rect x="1532" y="491" width="2" height="1"/><rect x="1532" y="486" width="2" height="1"/><rect x="1532" y="483" width="2" height="1"/><rect x="1532" y="481" width="2" height="1"/><rect x="1532" y="476" width="4" height="1"/><rect x="1535" y="236" width="1" height="1"/><rect x="1535" y="262" width="1" height="1"/></g></svg>
<div class="sl" style="top:231px">-2</div><div class="sl" style="top:257px">-3</div><div class="sl" style="top:280px">-4</div><div class="sl" style="top:319px">-6</div><div class="sl" style="top:364px">-9</div><div class="sl" style="top:395px">-12</div><div class="sl" style="top:417px">-15</div><div class="sl" style="top:444px">-21</div><div class="sl" style="top:457px">-27</div><div class="sl" style="top:711px">-2</div><div class="sl" style="top:685px">-3</div><div class="sl" style="top:662px">-4</div><div class="sl" style="top:623px">-6</div><div class="sl" style="top:578px">-9</div><div class="sl" style="top:547px">-12</div><div class="sl" style="top:525px">-15</div><div class="sl" style="top:498px">-21</div><div class="sl" style="top:485px">-27</div><div class="sl" style="top:471px">-∞</div>
<div id="ov"><div class="b" style="left:46px;width:328px;background:#ff0000"></div><div class="b" style="left:383px;width:145px;background:#0026ff"></div><div class="b" style="left:537px;width:164px;background:#ffe800"></div><div class="b" style="left:709px;width:65px;background:#00ff00"></div><div class="b" style="left:785px;width:222px;background:#cc00ff"></div><div class="b" style="left:1016px;width:59px;background:#00f6ff"></div><div class="b" style="left:1086px;width:170px;background:#ff9600"></div><div class="b" style="left:1262px;width:64px;background:#aaff00"></div><div class="b" style="left:1341px;width:168px;background:#0088ff"></div><div class="r" style="left:376px"></div><div class="r" style="left:530px"></div><div class="r" style="left:702px"></div><div class="r" style="left:777px"></div><div class="r" style="left:1009px"></div><div class="r" style="left:1078px"></div><div class="r" style="left:1259px"></div><div class="r" style="left:1331px"></div><div class="t" style="left:311.4px;top:80.2px;transform:scaleX(0.985)">Pause</div><div class="t" style="left:375.4px;top:79.1px;transform:scaleX(1.005)">Resume</div><div class="t" style="left:480.4px;top:88.7px;transform:scaleX(0.985)">Pause</div><div class="t" style="left:537.3px;top:87.1px;transform:scaleX(1.005)">Resume</div><div class="t" style="left:653.6px;top:88.7px;transform:scaleX(0.985)">Pause</div><div class="t" style="left:706.6px;top:88.7px;transform:scaleX(1.005)">Resume</div><div class="t" style="left:734.5px;top:62.8px;transform:scaleX(0.985)">Pause</div><div class="t" style="left:780.8px;top:62.8px;transform:scaleX(1.005)">Resume</div><div class="t" style="left:960.4px;top:88.7px;transform:scaleX(0.985)">Pause</div><div class="t" style="left:1009.0px;top:88.1px;transform:scaleX(1.005)">Resume</div><div class="t" style="left:1027.5px;top:55.9px;transform:scaleX(0.985)">Pause</div><div class="t" style="left:1079.6px;top:55.9px;transform:scaleX(1.005)">Resume</div><div class="t" style="left:1212.5px;top:89.8px;transform:scaleX(0.985)">Pause</div><div class="t" style="left:1259.7px;top:88.8px;transform:scaleX(1.005)">Resume</div><div class="t" style="left:1280.6px;top:60.0px;transform:scaleX(0.985)">Pause</div><div class="t" style="left:1333.9px;top:58.9px;transform:scaleX(1.005)">Resume</div><div class="T" style="left:32.3px;top:77.5px;transform:scaleX(0.93)">PLAY</div><div class="T" style="left:1484.8px;top:77.5px;transform:scaleX(0.89)">STOP</div>
<svg class="abs" style="left:0;top:0" width="1518" height="269" viewBox="0 0 1518 269"><g transform="translate(52.0,128.0)"><g fill="#000" stroke="#000" stroke-width="5.2" stroke-linejoin="round"><rect x="7.7" y="7.7" width="16.4" height="3.0"/><rect x="10.2" y="9.0" width="3.2" height="15.0"/><rect x="17.9" y="9.0" width="3.2" height="15.0"/><rect x="6.0" y="23.0" width="21.0" height="3.1"/><rect x="25.8" y="4.9" width="4.4" height="28.8"/><rect x="29.0" y="16.5" width="5.3" height="3.3"/><rect x="57.1" y="4.9" width="4.1" height="21.5"/><rect x="42.2" y="21.1" width="19.0" height="3.0"/><rect x="42.2" y="25.4" width="19.0" height="2.8"/><rect x="42.2" y="25.4" width="3.9" height="7.8"/><rect x="42.2" y="30.0" width="19.2" height="3.2"/><ellipse cx="45.3" cy="12.6" rx="5.4" ry="5.0" fill="none" stroke-width="9.4"/></g><g fill="#fff"><rect x="7.7" y="7.7" width="16.4" height="3.0"/><rect x="10.2" y="9.0" width="3.2" height="15.0"/><rect x="17.9" y="9.0" width="3.2" height="15.0"/><rect x="6.0" y="23.0" width="21.0" height="3.1"/><rect x="25.8" y="4.9" width="4.4" height="28.8"/><rect x="29.0" y="16.5" width="5.3" height="3.3"/><rect x="57.1" y="4.9" width="4.1" height="21.5"/><rect x="42.2" y="21.1" width="19.0" height="3.0"/><rect x="42.2" y="25.4" width="19.0" height="2.8"/><rect x="42.2" y="25.4" width="3.9" height="7.8"/><rect x="42.2" y="30.0" width="19.2" height="3.2"/><ellipse cx="45.3" cy="12.6" rx="5.4" ry="5.0" fill="none" stroke="#fff" stroke-width="4.2"/></g></g><path transform="translate(52.0,128.0)" d="M74.2,9.6H77.9V31.3H73V15.2L69,17.6L67.8,14.6Z" fill="#fff" stroke="#000" stroke-width="5.2" stroke-linejoin="round" paint-order="stroke"/><g transform="translate(384.2,128.0)"><g fill="#000" stroke="#000" stroke-width="5.2" stroke-linejoin="round"><rect x="7.7" y="7.7" width="16.4" height="3.0"/><rect x="10.2" y="9.0" width="3.2" height="15.0"/><rect x="17.9" y="9.0" width="3.2" height="15.0"/><rect x="6.0" y="23.0" width="21.0" height="3.1"/><rect x="25.8" y="4.9" width="4.4" height="28.8"/><rect x="29.0" y="16.5" width="5.3" height="3.3"/><rect x="57.1" y="4.9" width="4.1" height="21.5"/><rect x="42.2" y="21.1" width="19.0" height="3.0"/><rect x="42.2" y="25.4" width="19.0" height="2.8"/><rect x="42.2" y="25.4" width="3.9" height="7.8"/><rect x="42.2" y="30.0" width="19.2" height="3.2"/><ellipse cx="45.3" cy="12.6" rx="5.4" ry="5.0" fill="none" stroke-width="9.4"/></g><g fill="#fff"><rect x="7.7" y="7.7" width="16.4" height="3.0"/><rect x="10.2" y="9.0" width="3.2" height="15.0"/><rect x="17.9" y="9.0" width="3.2" height="15.0"/><rect x="6.0" y="23.0" width="21.0" height="3.1"/><rect x="25.8" y="4.9" width="4.4" height="28.8"/><rect x="29.0" y="16.5" width="5.3" height="3.3"/><rect x="57.1" y="4.9" width="4.1" height="21.5"/><rect x="42.2" y="21.1" width="19.0" height="3.0"/><rect x="42.2" y="25.4" width="19.0" height="2.8"/><rect x="42.2" y="25.4" width="3.9" height="7.8"/><rect x="42.2" y="30.0" width="19.2" height="3.2"/><ellipse cx="45.3" cy="12.6" rx="5.4" ry="5.0" fill="none" stroke="#fff" stroke-width="4.2"/></g></g><text transform="translate(450.9,159.5) scale(0.914,1)" x="-0.95" y="0" class="dg">2</text><g transform="translate(540.2,128.9)"><g fill="#000" stroke="#000" stroke-width="5.2" stroke-linejoin="round"><rect x="7.7" y="7.7" width="16.4" height="3.0"/><rect x="10.2" y="9.0" width="3.2" height="15.0"/><rect x="17.9" y="9.0" width="3.2" height="15.0"/><rect x="6.0" y="23.0" width="21.0" height="3.1"/><rect x="25.8" y="4.9" width="4.4" height="28.8"/><rect x="29.0" y="16.5" width="5.3" height="3.3"/><rect x="57.1" y="4.9" width="4.1" height="21.5"/><rect x="42.2" y="21.1" width="19.0" height="3.0"/><rect x="42.2" y="25.4" width="19.0" height="2.8"/><rect x="42.2" y="25.4" width="3.9" height="7.8"/><rect x="42.2" y="30.0" width="19.2" height="3.2"/><ellipse cx="45.3" cy="12.6" rx="5.4" ry="5.0" fill="none" stroke-width="9.4"/></g><g fill="#fff"><rect x="7.7" y="7.7" width="16.4" height="3.0"/><rect x="10.2" y="9.0" width="3.2" height="15.0"/><rect x="17.9" y="9.0" width="3.2" height="15.0"/><rect x="6.0" y="23.0" width="21.0" height="3.1"/><rect x="25.8" y="4.9" width="4.4" height="28.8"/><rect x="29.0" y="16.5" width="5.3" height="3.3"/><rect x="57.1" y="4.9" width="4.1" height="21.5"/><rect x="42.2" y="21.1" width="19.0" height="3.0"/><rect x="42.2" y="25.4" width="19.0" height="2.8"/><rect x="42.2" y="25.4" width="3.9" height="7.8"/><rect x="42.2" y="30.0" width="19.2" height="3.2"/><ellipse cx="45.3" cy="12.6" rx="5.4" ry="5.0" fill="none" stroke="#fff" stroke-width="4.2"/></g></g><text transform="translate(606.2,160.4) scale(0.959,1)" x="-0.63" y="0" class="dg">3</text><g transform="translate(705.2,197.2)"><g fill="#000" stroke="#000" stroke-width="5.2" stroke-linejoin="round"><rect x="7.7" y="7.7" width="16.4" height="3.0"/><rect x="10.2" y="9.0" width="3.2" height="15.0"/><rect x="17.9" y="9.0" width="3.2" height="15.0"/><rect x="6.0" y="23.0" width="21.0" height="3.1"/><rect x="25.8" y="4.9" width="4.4" height="28.8"/><rect x="29.0" y="16.5" width="5.3" height="3.3"/><rect x="57.1" y="4.9" width="4.1" height="21.5"/><rect x="42.2" y="21.1" width="19.0" height="3.0"/><rect x="42.2" y="25.4" width="19.0" height="2.8"/><rect x="42.2" y="25.4" width="3.9" height="7.8"/><rect x="42.2" y="30.0" width="19.2" height="3.2"/><ellipse cx="45.3" cy="12.6" rx="5.4" ry="5.0" fill="none" stroke-width="9.4"/></g><g fill="#fff"><rect x="7.7" y="7.7" width="16.4" height="3.0"/><rect x="10.2" y="9.0" width="3.2" height="15.0"/><rect x="17.9" y="9.0" width="3.2" height="15.0"/><rect x="6.0" y="23.0" width="21.0" height="3.1"/><rect x="25.8" y="4.9" width="4.4" height="28.8"/><rect x="29.0" y="16.5" width="5.3" height="3.3"/><rect x="57.1" y="4.9" width="4.1" height="21.5"/><rect x="42.2" y="21.1" width="19.0" height="3.0"/><rect x="42.2" y="25.4" width="19.0" height="2.8"/><rect x="42.2" y="25.4" width="3.9" height="7.8"/><rect x="42.2" y="30.0" width="19.2" height="3.2"/><ellipse cx="45.3" cy="12.6" rx="5.4" ry="5.0" fill="none" stroke="#fff" stroke-width="4.2"/></g></g><text transform="translate(770.9,228.0) scale(0.906,1)" x="-0.32" y="0" class="dg">4</text><g transform="translate(789.4,123.8)"><g fill="#000" stroke="#000" stroke-width="5.2" stroke-linejoin="round"><rect x="7.7" y="7.7" width="16.4" height="3.0"/><rect x="10.2" y="9.0" width="3.2" height="15.0"/><rect x="17.9" y="9.0" width="3.2" height="15.0"/><rect x="6.0" y="23.0" width="21.0" height="3.1"/><rect x="25.8" y="4.9" width="4.4" height="28.8"/><rect x="29.0" y="16.5" width="5.3" height="3.3"/><rect x="57.1" y="4.9" width="4.1" height="21.5"/><rect x="42.2" y="21.1" width="19.0" height="3.0"/><rect x="42.2" y="25.4" width="19.0" height="2.8"/><rect x="42.2" y="25.4" width="3.9" height="7.8"/><rect x="42.2" y="30.0" width="19.2" height="3.2"/><ellipse cx="45.3" cy="12.6" rx="5.4" ry="5.0" fill="none" stroke-width="9.4"/></g><g fill="#fff"><rect x="7.7" y="7.7" width="16.4" height="3.0"/><rect x="10.2" y="9.0" width="3.2" height="15.0"/><rect x="17.9" y="9.0" width="3.2" height="15.0"/><rect x="6.0" y="23.0" width="21.0" height="3.1"/><rect x="25.8" y="4.9" width="4.4" height="28.8"/><rect x="29.0" y="16.5" width="5.3" height="3.3"/><rect x="57.1" y="4.9" width="4.1" height="21.5"/><rect x="42.2" y="21.1" width="19.0" height="3.0"/><rect x="42.2" y="25.4" width="19.0" height="2.8"/><rect x="42.2" y="25.4" width="3.9" height="7.8"/><rect x="42.2" y="30.0" width="19.2" height="3.2"/><ellipse cx="45.3" cy="12.6" rx="5.4" ry="5.0" fill="none" stroke="#fff" stroke-width="4.2"/></g></g><text transform="translate(855.8,155.0) scale(0.896,1)" x="-0.95" y="0" class="dg">5</text><g transform="translate(1015.4,193.2)"><g fill="#000" stroke="#000" stroke-width="5.2" stroke-linejoin="round"><rect x="7.7" y="7.7" width="16.4" height="3.0"/><rect x="10.2" y="9.0" width="3.2" height="15.0"/><rect x="17.9" y="9.0" width="3.2" height="15.0"/><rect x="6.0" y="23.0" width="21.0" height="3.1"/><rect x="25.8" y="4.9" width="4.4" height="28.8"/><rect x="29.0" y="16.5" width="5.3" height="3.3"/><rect x="57.1" y="4.9" width="4.1" height="21.5"/><rect x="42.2" y="21.1" width="19.0" height="3.0"/><rect x="42.2" y="25.4" width="19.0" height="2.8"/><rect x="42.2" y="25.4" width="3.9" height="7.8"/><rect x="42.2" y="30.0" width="19.2" height="3.2"/><ellipse cx="45.3" cy="12.6" rx="5.4" ry="5.0" fill="none" stroke-width="9.4"/></g><g fill="#fff"><rect x="7.7" y="7.7" width="16.4" height="3.0"/><rect x="10.2" y="9.0" width="3.2" height="15.0"/><rect x="17.9" y="9.0" width="3.2" height="15.0"/><rect x="6.0" y="23.0" width="21.0" height="3.1"/><rect x="25.8" y="4.9" width="4.4" height="28.8"/><rect x="29.0" y="16.5" width="5.3" height="3.3"/><rect x="57.1" y="4.9" width="4.1" height="21.5"/><rect x="42.2" y="21.1" width="19.0" height="3.0"/><rect x="42.2" y="25.4" width="19.0" height="2.8"/><rect x="42.2" y="25.4" width="3.9" height="7.8"/><rect x="42.2" y="30.0" width="19.2" height="3.2"/><ellipse cx="45.3" cy="12.6" rx="5.4" ry="5.0" fill="none" stroke="#fff" stroke-width="4.2"/></g></g><text transform="translate(1081.7,224.4) scale(0.959,1)" x="-0.95" y="0" class="dg">6</text><g transform="translate(1085.4,125.2)"><g fill="#000" stroke="#000" stroke-width="5.2" stroke-linejoin="round"><rect x="7.7" y="7.7" width="16.4" height="3.0"/><rect x="10.2" y="9.0" width="3.2" height="15.0"/><rect x="17.9" y="9.0" width="3.2" height="15.0"/><rect x="6.0" y="23.0" width="21.0" height="3.1"/><rect x="25.8" y="4.9" width="4.4" height="28.8"/><rect x="29.0" y="16.5" width="5.3" height="3.3"/><rect x="57.1" y="4.9" width="4.1" height="21.5"/><rect x="42.2" y="21.1" width="19.0" height="3.0"/><rect x="42.2" y="25.4" width="19.0" height="2.8"/><rect x="42.2" y="25.4" width="3.9" height="7.8"/><rect x="42.2" y="30.0" width="19.2" height="3.2"/><ellipse cx="45.3" cy="12.6" rx="5.4" ry="5.0" fill="none" stroke-width="9.4"/></g><g fill="#fff"><rect x="7.7" y="7.7" width="16.4" height="3.0"/><rect x="10.2" y="9.0" width="3.2" height="15.0"/><rect x="17.9" y="9.0" width="3.2" height="15.0"/><rect x="6.0" y="23.0" width="21.0" height="3.1"/><rect x="25.8" y="4.9" width="4.4" height="28.8"/><rect x="29.0" y="16.5" width="5.3" height="3.3"/><rect x="57.1" y="4.9" width="4.1" height="21.5"/><rect x="42.2" y="21.1" width="19.0" height="3.0"/><rect x="42.2" y="25.4" width="19.0" height="2.8"/><rect x="42.2" y="25.4" width="3.9" height="7.8"/><rect x="42.2" y="30.0" width="19.2" height="3.2"/><ellipse cx="45.3" cy="12.6" rx="5.4" ry="5.0" fill="none" stroke="#fff" stroke-width="4.2"/></g></g><text transform="translate(1151.1,156.3) scale(1.019,1)" x="-1.27" y="0" class="dg">7</text><g transform="translate(1264.3,195.2)"><g fill="#000" stroke="#000" stroke-width="5.2" stroke-linejoin="round"><rect x="7.7" y="7.7" width="16.4" height="3.0"/><rect x="10.2" y="9.0" width="3.2" height="15.0"/><rect x="17.9" y="9.0" width="3.2" height="15.0"/><rect x="6.0" y="23.0" width="21.0" height="3.1"/><rect x="25.8" y="4.9" width="4.4" height="28.8"/><rect x="29.0" y="16.5" width="5.3" height="3.3"/><rect x="57.1" y="4.9" width="4.1" height="21.5"/><rect x="42.2" y="21.1" width="19.0" height="3.0"/><rect x="42.2" y="25.4" width="19.0" height="2.8"/><rect x="42.2" y="25.4" width="3.9" height="7.8"/><rect x="42.2" y="30.0" width="19.2" height="3.2"/><ellipse cx="45.3" cy="12.6" rx="5.4" ry="5.0" fill="none" stroke-width="9.4"/></g><g fill="#fff"><rect x="7.7" y="7.7" width="16.4" height="3.0"/><rect x="10.2" y="9.0" width="3.2" height="15.0"/><rect x="17.9" y="9.0" width="3.2" height="15.0"/><rect x="6.0" y="23.0" width="21.0" height="3.1"/><rect x="25.8" y="4.9" width="4.4" height="28.8"/><rect x="29.0" y="16.5" width="5.3" height="3.3"/><rect x="57.1" y="4.9" width="4.1" height="21.5"/><rect x="42.2" y="21.1" width="19.0" height="3.0"/><rect x="42.2" y="25.4" width="19.0" height="2.8"/><rect x="42.2" y="25.4" width="3.9" height="7.8"/><rect x="42.2" y="30.0" width="19.2" height="3.2"/><ellipse cx="45.3" cy="12.6" rx="5.4" ry="5.0" fill="none" stroke="#fff" stroke-width="4.2"/></g></g><text transform="translate(1330.7,226.4) scale(0.978,1)" x="-0.95" y="0" class="dg">8</text><g transform="translate(1337.2,123.8)"><g fill="#000" stroke="#000" stroke-width="5.2" stroke-linejoin="round"><rect x="7.7" y="7.7" width="16.4" height="3.0"/><rect x="10.2" y="9.0" width="3.2" height="15.0"/><rect x="17.9" y="9.0" width="3.2" height="15.0"/><rect x="6.0" y="23.0" width="21.0" height="3.1"/><rect x="25.8" y="4.9" width="4.4" height="28.8"/><rect x="29.0" y="16.5" width="5.3" height="3.3"/><rect x="57.1" y="4.9" width="4.1" height="21.5"/><rect x="42.2" y="21.1" width="19.0" height="3.0"/><rect x="42.2" y="25.4" width="19.0" height="2.8"/><rect x="42.2" y="25.4" width="3.9" height="7.8"/><rect x="42.2" y="30.0" width="19.2" height="3.2"/><ellipse cx="45.3" cy="12.6" rx="5.4" ry="5.0" fill="none" stroke-width="9.4"/></g><g fill="#fff"><rect x="7.7" y="7.7" width="16.4" height="3.0"/><rect x="10.2" y="9.0" width="3.2" height="15.0"/><rect x="17.9" y="9.0" width="3.2" height="15.0"/><rect x="6.0" y="23.0" width="21.0" height="3.1"/><rect x="25.8" y="4.9" width="4.4" height="28.8"/><rect x="29.0" y="16.5" width="5.3" height="3.3"/><rect x="57.1" y="4.9" width="4.1" height="21.5"/><rect x="42.2" y="21.1" width="19.0" height="3.0"/><rect x="42.2" y="25.4" width="19.0" height="2.8"/><rect x="42.2" y="25.4" width="3.9" height="7.8"/><rect x="42.2" y="30.0" width="19.2" height="3.2"/><ellipse cx="45.3" cy="12.6" rx="5.4" ry="5.0" fill="none" stroke="#fff" stroke-width="4.2"/></g></g><text transform="translate(1403.2,155.3) scale(0.998,1)" x="-0.95" y="0" class="dg">9</text></svg>
</div>
</body></html>
